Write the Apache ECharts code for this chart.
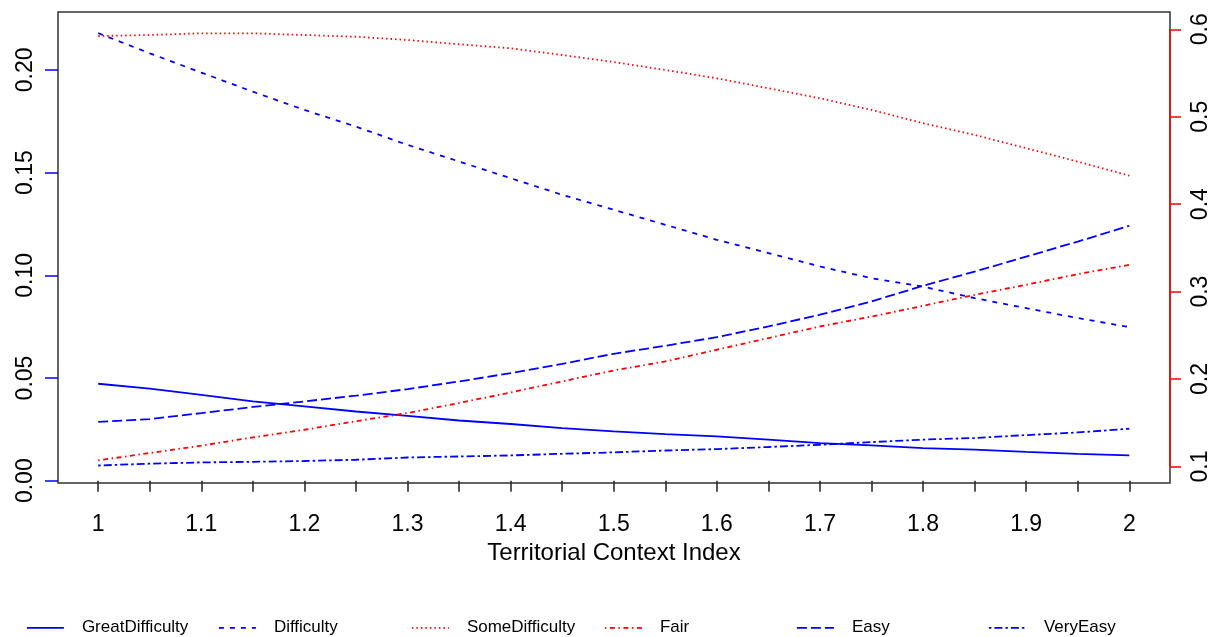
<!DOCTYPE html>
<html>
<head>
<meta charset="utf-8">
<script src="https://cdn.jsdelivr.net/npm/echarts@6/dist/echarts.min.js"></script>
<style>
html,body{margin:0;padding:0;background:#fff;}
#chart{width:1223px;height:637px;}
</style>
</head>
<body>
<div id="chart"></div>
<script>
// ---- data ----
const xValues = [1.00,1.05,1.10,1.15,1.20,1.25,1.30,1.35,1.40,1.45,1.50,1.55,1.60,1.65,1.70,1.75,1.80,1.85,1.90,1.95,2.00];
// left axis
const greatDifficulty = [0.0472,0.0448,0.0418,0.0386,0.0362,0.0337,0.0316,0.0293,0.0276,0.0256,0.0240,0.0227,0.0216,0.0200,0.0183,0.0172,0.0159,0.0151,0.0140,0.0131,0.0123];
const difficulty = [0.2179,0.2081,0.1987,0.1894,0.1805,0.1724,0.1635,0.1554,0.1473,0.1392,0.1319,0.1246,0.1173,0.1108,0.1043,0.0986,0.0945,0.0889,0.0840,0.0792,0.0748];
const easy = [0.0286,0.0300,0.0329,0.0359,0.0386,0.0414,0.0446,0.0483,0.0524,0.0569,0.0618,0.0657,0.0699,0.0751,0.0808,0.0873,0.0949,0.1018,0.1091,0.1164,0.1241];
const veryEasy = [0.0074,0.0083,0.0089,0.0092,0.0096,0.0102,0.0113,0.0118,0.0123,0.0131,0.0138,0.0147,0.0154,0.0164,0.0175,0.0188,0.0200,0.0208,0.0222,0.0235,0.0253];
// right axis
const someDifficulty = [0.5923,0.5935,0.5954,0.5954,0.5935,0.5915,0.5878,0.5829,0.5783,0.5706,0.5626,0.5535,0.5440,0.5326,0.5211,0.5078,0.4926,0.4792,0.4640,0.4487,0.4327];
const fair = [0.1070,0.1154,0.1238,0.1333,0.1420,0.1518,0.1611,0.1726,0.1847,0.1973,0.2098,0.2201,0.2335,0.2469,0.2601,0.2715,0.2838,0.2963,0.3078,0.3200,0.3306];

const xTickValues = [1,1.05,1.1,1.15,1.2,1.25,1.3,1.35,1.4,1.45,1.5,1.55,1.6,1.65,1.7,1.75,1.8,1.85,1.9,1.95,2];
const xLabelValues = [1,1.1,1.2,1.3,1.4,1.5,1.6,1.7,1.8,1.9,2];
const leftTickValues = [0,0.05,0.1,0.15,0.2];
const rightTickValues = [0.1,0.2,0.3,0.4,0.5,0.6];
const xTitle = 'Territorial Context Index';

const seriesDefs = [
  {name:'GreatDifficulty', data:greatDifficulty, axis:0, color:'#0000ff', dash:'solid'},
  {name:'Difficulty', data:difficulty, axis:0, color:'#0000ff', dash:[5,6]},
  {name:'SomeDifficulty', data:someDifficulty, axis:1, color:'#ff0000', dash:[1.5,3]},
  {name:'Fair', data:fair, axis:1, color:'#ff0000', dash:[1.5,3.5,5,3.5]},
  {name:'Easy', data:easy, axis:0, color:'#0000ff', dash:[10,4]},
  {name:'VeryEasy', data:veryEasy, axis:0, color:'#0000ff', dash:[2.5,3,8,3]}
];
const legendLeft = [21,213,406,599,791,983];

const font = 'Liberation Sans, Arial, sans-serif';
const chart = echarts.init(document.getElementById('chart'), null, {renderer:'canvas'});

const series = seriesDefs.map(d => ({
  name: d.name,
  type: 'line',
  yAxisIndex: d.axis,
  data: xValues.map((x,i) => [x, d.data[i]]),
  showSymbol: false,
  symbol: 'none',
  smooth: false,
  lineStyle: {color: d.color, width: 1.8, type: d.dash},
  itemStyle: {color: d.color},
  emphasis: {disabled: true},
  animation: false
}));
// red right-axis line from 0.1 to 0.6 (R style axis line)
series.push({
  name: '_rightAxisLine',
  type: 'line',
  yAxisIndex: 1,
  data: [],
  markLine: {
    silent: true, symbol: ['none','none'], label: {show:false},
    lineStyle: {color:'#ff0000', width:1.5, type:'solid'},
    data: [[{coord:[2.0395, rightTickValues[0]]},{coord:[2.0395, rightTickValues[rightTickValues.length-1]]}]]
  },
  animation: false
});

const legends = seriesDefs.map((d,i) => ({
  data: [d.name],
  left: legendLeft[i],
  top: 614,
  orient: 'horizontal',
  itemWidth: 37,
  itemHeight: 22,
  itemStyle: {opacity: 0},
  lineStyle: {width: 1.8},
  textStyle: {fontFamily: font, fontSize: 17, color:'#000', padding:[0,0,0,13]},
  selectedMode: false
}));

chart.setOption({
  animation: false,
  backgroundColor: '#fff',
  grid: {left: 58, right: 53, top: 12, bottom: 154, show: true, borderColor: '#333', borderWidth: 1.5, backgroundColor:'transparent'},
  legend: legends,
  xAxis: {
    type: 'value', min: 0.961, max: 2.0395,
    axisLine: {show: false},
    splitLine: {show: false},
    axisTick: {show: true, customValues: xTickValues, length: 11, lineStyle: {color:'#222', width:1.5}},
    axisLabel: {customValues: xLabelValues, margin: 30, fontFamily: font, fontSize: 23, color:'#000',
      formatter: v => String(Math.round(v*10)/10)},
    name: xTitle, nameLocation: 'middle', nameGap: 56,
    nameTextStyle: {fontFamily: font, fontSize: 24, color:'#000'}
  },
  yAxis: [
    {
      type: 'value', min: -0.00112, max: 0.2282, position: 'left',
      axisLine: {show: false},
      splitLine: {show: false},
      axisTick: {show: true, customValues: leftTickValues, length: 13, lineStyle: {color:'#0000ff', width:1.5}},
      axisLabel: {customValues: leftTickValues, rotate: 90, margin: 21, fontFamily: font, fontSize: 23, color:'#000',
        formatter: v => v.toFixed(2)}
    },
    {
      type: 'value', min: 0.0811, max: 0.6198, position: 'right',
      axisLine: {show: false},
      splitLine: {show: false},
      axisTick: {show: true, customValues: rightTickValues, length: 11, lineStyle: {color:'#ff0000', width:1.5}},
      axisLabel: {customValues: rightTickValues, rotate: 90, margin: 19, fontFamily: font, fontSize: 23, color:'#000',
        formatter: v => v.toFixed(1)}
    }
  ],
  series: series
});
</script>
</body>
</html>
